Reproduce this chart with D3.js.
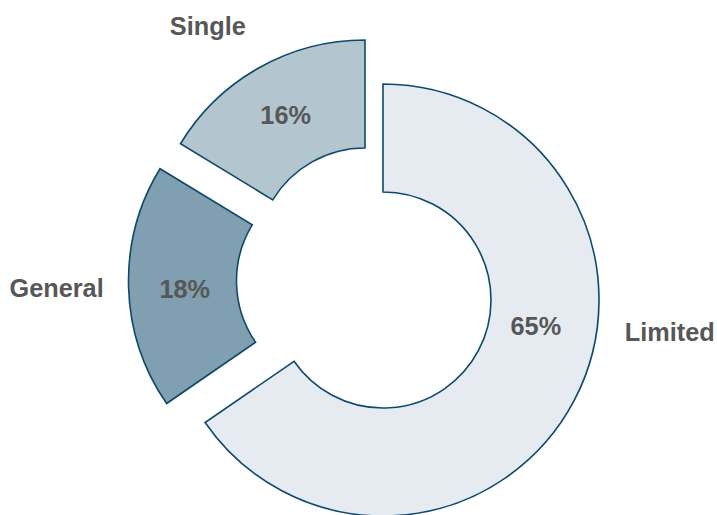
<!DOCTYPE html>
<html>
<head>
<meta charset="utf-8">
<script src="https://cdn.jsdelivr.net/npm/d3@7"></script>
<style>
  html, body { margin: 0; padding: 0; background: #ffffff; }
  svg { display: block; }
</style>
</head>
<body>
<svg id="chart" width="717" height="515"></svg>
<script>
// ---- data ----
const categories = ["Limited", "General", "Single"];
const values = [65.4, 18.3, 16.3];
const percentLabels = ["65%", "18%", "16%"];

// ---- style ----
const fills = ["#e5ebf0", "#809fb0", "#b3c6cf"];
const strokeColor = "#0d4a6b";
const textColor = "#575757";
const fontSize = 25.3;
const baseCenter = [383, 300];
const outerR = 216, innerR = 108;
// per-slice explode offsets (px)
const explode = [[0, 0], [-38.5, -19], [-18, -44]];
// label placement tweaks (degrees / px); null = slice mid-angle
const pctAngle = [99.6, 267, null];
const pctRadius = [155, 160, 162];
const outerAngle = [96.3, 268.6, 325.7];
const outerRadius = [288.5, 288, 279];

const svg = d3.select("#chart");
const pie = d3.pie().sort(null).value(d => d)(values);
const arc = d3.arc().innerRadius(innerR).outerRadius(outerR);

const toRad = deg => deg * Math.PI / 180;
const polar = (angleRad, r) => [r * Math.sin(angleRad), -r * Math.cos(angleRad)];

const g = svg.selectAll("g.slice")
  .data(pie)
  .enter().append("g")
  .attr("class", "slice")
  .attr("transform", (d, i) => `translate(${baseCenter[0] + explode[i][0]},${baseCenter[1] + explode[i][1]})`);

g.append("path")
  .attr("d", arc)
  .attr("fill", (d, i) => fills[i])
  .attr("stroke", strokeColor)
  .attr("stroke-width", 1.6)
  .attr("stroke-linejoin", "miter");

g.append("text")
  .attr("transform", (d, i) => {
    const a = pctAngle[i] == null ? (d.startAngle + d.endAngle) / 2 : toRad(pctAngle[i]);
    const p = polar(a, pctRadius[i]);
    return `translate(${p[0]},${p[1]})`;
  })
  .attr("text-anchor", "middle")
  .attr("dominant-baseline", "central")
  .style("font-family", "'Liberation Sans', Arial, sans-serif")
  .style("font-weight", "bold")
  .style("font-size", fontSize + "px")
  .attr("fill", textColor)
  .text((d, i) => percentLabels[i]);

g.append("text")
  .attr("transform", (d, i) => {
    const a = outerAngle[i] == null ? (d.startAngle + d.endAngle) / 2 : toRad(outerAngle[i]);
    const p = polar(a, outerRadius[i]);
    return `translate(${p[0]},${p[1]})`;
  })
  .attr("text-anchor", "middle")
  .attr("dominant-baseline", "central")
  .style("font-family", "'Liberation Sans', Arial, sans-serif")
  .style("font-weight", "bold")
  .style("font-size", fontSize + "px")
  .attr("fill", textColor)
  .text((d, i) => categories[i]);
</script>
</body>
</html>
